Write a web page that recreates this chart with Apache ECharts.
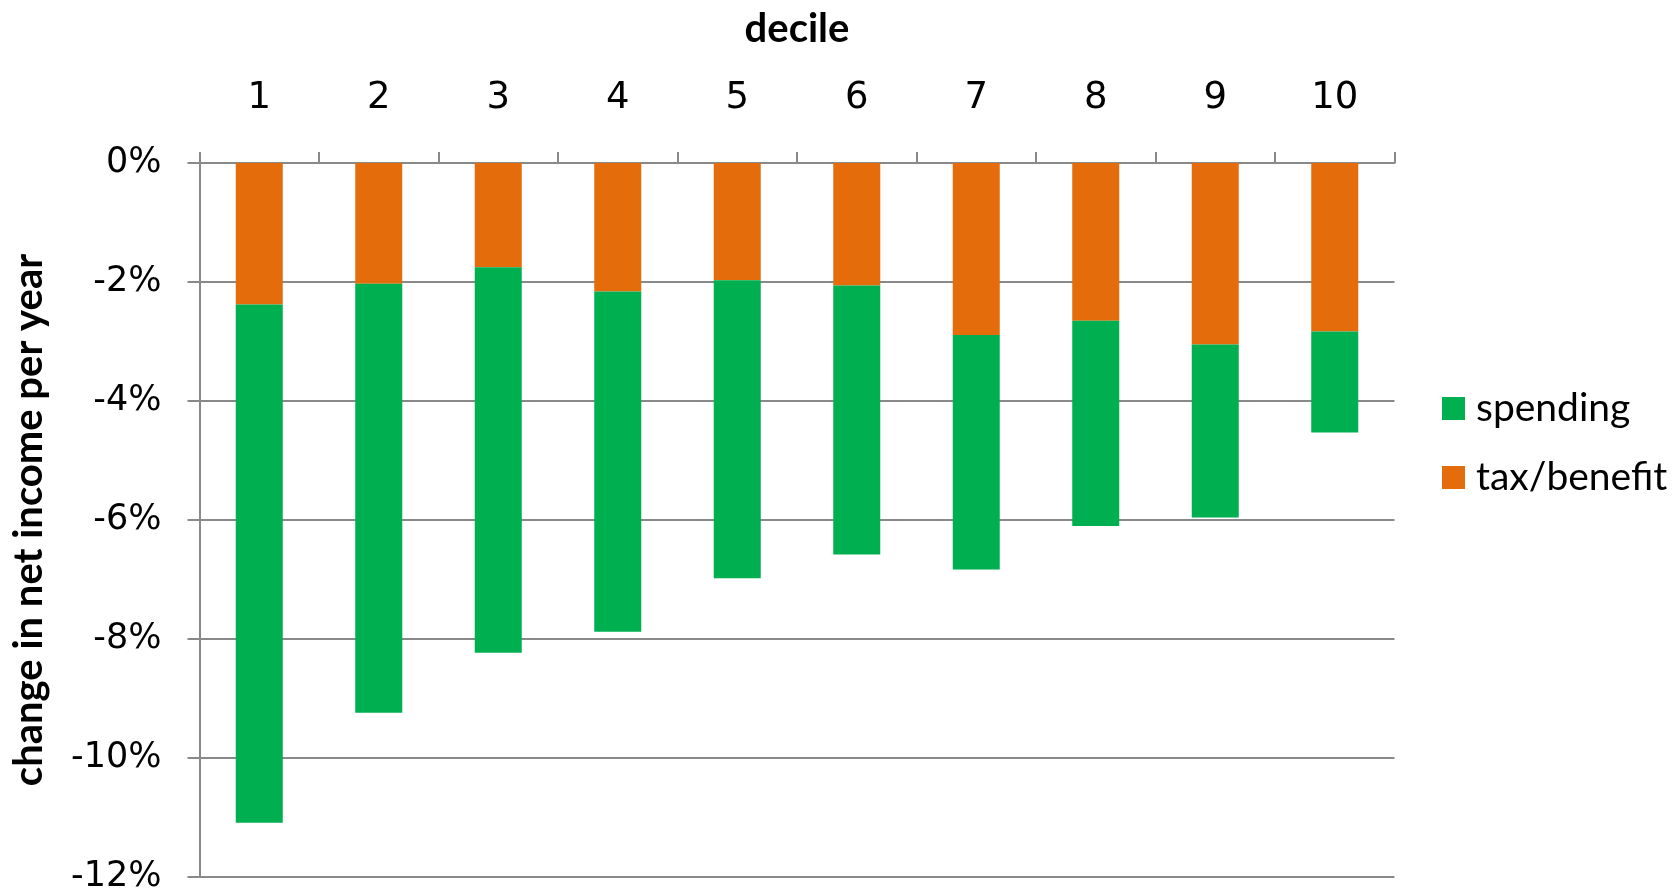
<!DOCTYPE html>
<html>
<head>
<meta charset="utf-8">
<script src="https://cdn.jsdelivr.net/npm/echarts@6/dist/echarts.min.js"></script>
<style>
html,body{margin:0;padding:0;background:#fff;}
#chart{width:1673px;height:892px;}
</style>
</head>
<body>
<div id="chart"></div>
<script>
var deciles = ['1','2','3','4','5','6','7','8','9','10'];
var taxBenefit = [-2.38, -2.03, -1.75, -2.16, -1.97, -2.06, -2.89, -2.65, -3.05, -2.83];
var spending = [-8.71, -7.21, -6.48, -5.72, -5.01, -4.52, -3.94, -3.45, -2.91, -1.70];
var yTicks = {min: -12, max: 0, interval: 2};

var chart = echarts.init(document.getElementById('chart'), null, {renderer: 'canvas'});
var gray = '#898989';
chart.setOption({
  animation: false,
  backgroundColor: '#ffffff',
  grid: {left: 199.5, right: 278.5, top: 163, bottom: 15, containLabel: false, outerBoundsMode: 'none'},
  legend: {
    orient: 'vertical',
    left: 1437,
    top: 384,
    itemWidth: 23,
    itemHeight: 23,
    itemGap: 30,
    icon: 'rect',
    data: ['spending', 'tax/benefit'],
    textStyle: {fontFamily: 'Lato', fontSize: 39, color: '#000', padding: [0, 0, 0, 6]}
  },
  xAxis: {
    type: 'category',
    position: 'top',
    data: deciles,
    name: 'decile',
    nameLocation: 'middle',
    nameGap: 114,
    nameTextStyle: {fontFamily: 'Lato', fontWeight: 'bold', fontSize: 40, color: '#000'},
    axisLine: {show: true, lineStyle: {color: gray, width: 2}},
    axisTick: {show: true, inside: false, length: 11, lineStyle: {color: gray, width: 2}},
    axisLabel: {fontFamily: 'DejaVu Sans', fontSize: 37, color: '#000', margin: 46}
  },
  yAxis: {
    type: 'value',
    min: yTicks.min,
    max: yTicks.max,
    interval: yTicks.interval,
    name: 'change in net income per year',
    nameLocation: 'middle',
    nameGap: 150,
    nameRotate: 90,
    nameTextStyle: {fontFamily: 'Lato', fontWeight: 'bold', fontSize: 40, color: '#000'},
    axisLine: {show: true, lineStyle: {color: gray, width: 2}},
    axisTick: {show: true, inside: false, length: 12, lineStyle: {color: gray, width: 2}},
    axisLabel: {fontFamily: 'DejaVu Sans', fontSize: 35, color: '#000', margin: 38, formatter: '{value}%'},
    splitLine: {lineStyle: {color: gray, width: 2}}
  },
  series: [
    {
      name: 'tax/benefit',
      type: 'bar',
      stack: 'total',
      barWidth: 47,
      data: taxBenefit,
      itemStyle: {color: '#E46C0A'}
    },
    {
      name: 'spending',
      type: 'bar',
      stack: 'total',
      barWidth: 47,
      data: spending,
      itemStyle: {color: '#00AF50'}
    }
  ]
});
</script>
</body>
</html>
